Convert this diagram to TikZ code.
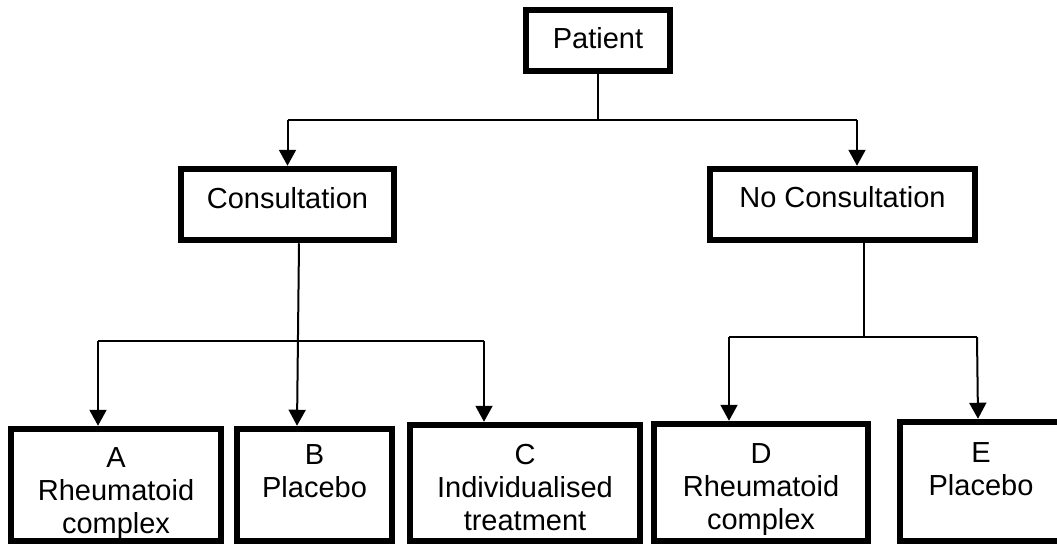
\documentclass[tikz,border=0pt]{standalone}
\usepackage{fontspec}
\setmainfont{Liberation Sans}
\usetikzlibrary{arrows.meta}
\begin{document}
\begin{tikzpicture}[x=1pt,y=-1pt,
  box/.style={draw,line width=6pt,rectangle,inner sep=0pt,align=center,
    font=\fontsize{29}{33}\selectfont},
  conn/.style={line width=2pt},
  arr/.style={line width=2pt,-{Triangle[width=17pt,length=16pt]}}]
\useasboundingbox (0,0) rectangle (1057,544);
\clip (0,0) rectangle (1057,544);

% top level
\node[box,minimum width=144.5pt,minimum height=61.5pt,text height=21pt,text depth=6pt] (pat) at (598,40.5) {Patient};

% second level
\node[box,minimum width=213.5pt,minimum height=71.5pt,text height=21pt,text depth=14pt] (con) at (287.5,204.5) {Consultation};
\node[box,minimum width=265.5pt,minimum height=71.5pt,text height=21pt,text depth=16pt] (nocon) at (842.5,204.5) {No Consultation};

% treatment groups (text height/depth set from the last line's baseline)
\node[box,minimum width=210.5pt,minimum height=112.5pt,text height=96pt,text depth=0pt] (ga) at (116,485) {A\\Rheumatoid\\complex};
\node[box,minimum width=155.5pt,minimum height=112.5pt,text height=24pt,text depth=0pt] (gb) at (314.5,485) {B\\Placebo};
\node[box,minimum width=230.5pt,minimum height=116.5pt,text height=94pt,text depth=0pt] (gc) at (525,483) {C\\Individualised\\treatment};
\node[box,minimum width=214.5pt,minimum height=117.5pt,text height=93pt,text depth=0pt] (gd) at (761,482.5) {D\\Rheumatoid\\complex};
\node[box,minimum width=162.5pt,minimum height=119.5pt,text height=27pt,text depth=0pt] (ge) at (981,481.5) {E\\Placebo};

% branch points
\coordinate (tmid) at (598,120);
\coordinate (tl) at (287.5,120);
\coordinate (tr) at (857,120);
\coordinate (ll) at (98,341);
\coordinate (lr) at (484,341);
\coordinate (rmid) at (864,337);
\coordinate (rl) at (729,337);
\coordinate (rr) at (977,337);

% Patient -> Consultation / No Consultation
\draw[conn] (pat.south) -- (tmid);
\draw[conn] (tl) -- (tr);
\draw[arr] (tl) -- (con.north);
\draw[arr] (tr) -- (tr |- nocon.north);

% Consultation -> A, B, C
\draw[arr] ([xshift=11.5pt]con.south) -- ([xshift=-17.5pt]gb.north);
\draw[conn] (ll) -- (lr);
\draw[arr] (ll) -- ([xshift=-18pt]ga.north);
\draw[arr] (lr) -- ([xshift=-41pt]gc.north);

% No Consultation -> D, E
\draw[conn] (nocon.south -| rmid) -- (rmid);
\draw[conn] (rl) -- (rr);
\draw[arr] (rl) -- ([xshift=-32pt]gd.north);
\draw[arr] (rr) -- ([xshift=-3pt]ge.north);
\end{tikzpicture}
\end{document}
